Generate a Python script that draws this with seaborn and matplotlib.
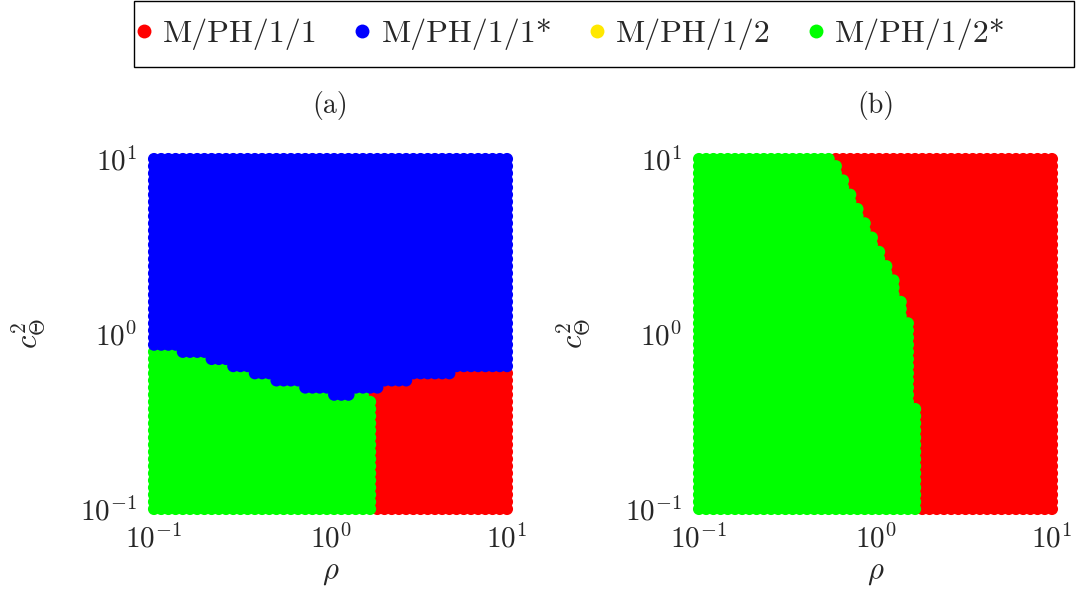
import numpy as np
import pandas as pd
import matplotlib
matplotlib.use("Agg")
import matplotlib.pyplot as plt
from matplotlib.lines import Line2D
from matplotlib.patches import Rectangle
from matplotlib.ticker import NullLocator
import seaborn as sns

# Policies and their colours (legend order)
POLICIES = ["M/PH/1/1", "M/PH/1/1*", "M/PH/1/2", "M/PH/1/2*"]
COLORS = ["#ff0000", "#0000ff", "#ffe800", "#00ff00"]

# Evaluation grid (50 x 50, log-spaced over two decades)
RHO_GRID = np.logspace(-1, 1, 50)
C2_GRID = np.logspace(-1, 1, 50)

# Panel (a): M/PH/1/1* wins above a rho-dependent c2 threshold
A_RHO_BREAKS = [0.139, 0.202, 0.268, 0.356, 0.471, 0.687, 1.0, 1.33, 1.93, 2.81, 4.94]
A_BLUE_MIN_C2 = [0.829, 0.754, 0.687, 0.625, 0.569, 0.518, 0.471, 0.429,
                 0.471, 0.518, 0.569, 0.625]
# below it, M/PH/1/1 wins for large rho, M/PH/1/2* otherwise
A_RED_MIN_RHO = 1.76
A_NOTCH_C2 = (0.43, 0.47)
A_NOTCH_RED_MIN_RHO = 1.60

# Panel (b): M/PH/1/2* wins for rho below a c2-dependent limit
B_C2_BOUNDS = [9.5, 7.9, 6.5, 5.4, 4.5, 3.7, 3.1, 2.6, 2.1, 1.6, 1.2, 0.39, 0.0]
B_GREEN_MAX_RHO = [0.57, 0.63, 0.69, 0.76, 0.83, 0.91, 1.0, 1.1, 1.2, 1.33,
                   1.46, 1.6, 1.76]


def best_policy_a(rho, c2):
    seg = int(np.searchsorted(A_RHO_BREAKS, rho))
    if c2 >= A_BLUE_MIN_C2[seg]:
        return POLICIES[1]
    lim = A_NOTCH_RED_MIN_RHO if A_NOTCH_C2[0] < c2 < A_NOTCH_C2[1] else A_RED_MIN_RHO
    return POLICIES[0] if rho > lim else POLICIES[3]


def best_policy_b(rho, c2):
    band = next(i for i, b in enumerate(B_C2_BOUNDS) if c2 >= b)
    return POLICIES[3] if rho <= B_GREEN_MAX_RHO[band] else POLICIES[0]


def build_frame(rule):
    rows = [(r, c, rule(r, c)) for r in RHO_GRID for c in C2_GRID]
    df = pd.DataFrame(rows, columns=["rho", "c2", "policy"])
    # draw order: M/PH/1/1 first, then M/PH/1/2*, M/PH/1/1* on top
    prio = {POLICIES[0]: 0, POLICIES[2]: 1, POLICIES[3]: 2, POLICIES[1]: 3}
    df["order"] = df["policy"].map(prio)
    return df.sort_values("order", kind="stable")


sns.set_theme(style="white")
plt.rcParams["font.family"] = ["cmr10", "DejaVu Serif"]
plt.rcParams["mathtext.fontset"] = "cm"
plt.rcParams["axes.unicode_minus"] = False

W, H = 1078, 597
fig = plt.figure(figsize=(W / 100, H / 100), dpi=100)

panels = [("(a)", best_policy_a, 154), ("(b)", best_policy_b, 699)]
top_px, bot_px, width_px = 159, 509, 353
FS = 20

for title, rule, left_px in panels:
    ax = fig.add_axes([left_px / W, 1 - bot_px / H, width_px / W, (bot_px - top_px) / H])
    ax.set_xscale("log")
    ax.set_yscale("log")
    df = build_frame(rule)
    sns.scatterplot(data=df, x="rho", y="c2", hue="policy", hue_order=POLICIES,
                    palette=COLORS, s=76, linewidth=0, legend=False, ax=ax)
    for coll in ax.collections:
        coll.set_clip_on(False)
    ax.set_xlim(0.1, 10)
    ax.set_ylim(0.1, 10)
    ax.set_xticks([0.1, 1, 10])
    ax.set_yticks([0.1, 1, 10])
    ax.set_xticklabels([r"$10^{-1}$", r"$10^{0}$", r"$10^{1}$"])
    ax.set_yticklabels([r"$10^{-1}$", r"$10^{0}$", r"$10^{1}$"])
    ax.xaxis.set_minor_locator(NullLocator())
    ax.yaxis.set_minor_locator(NullLocator())
    ax.tick_params(axis="both", length=0, labelsize=FS + 1)
    ax.tick_params(axis="x", pad=11)
    ax.tick_params(axis="y", pad=12)
    for sp in ax.spines.values():
        sp.set_visible(False)
    ax.set_xlabel(r"$\rho$", fontsize=FS + 2)
    ax.set_ylabel(r"$c_{\Theta}^{2}$", fontsize=FS + 2)
    ax.xaxis.set_label_coords(0.5, -0.145)
    ax.yaxis.set_label_coords(-0.30, 0.5)
    ax.text(0.5, 1 + (top_px - 105) / (bot_px - top_px), title,
            transform=ax.transAxes, ha="center", va="center", fontsize=FS)

# Legend row across the top, inside a plain black box
handles = [Line2D([], [], marker="o", linestyle="", markersize=10,
                  markerfacecolor=c, markeredgewidth=0) for c in COLORS]
fig.legend(handles, POLICIES, loc="center left",
           bbox_to_anchor=(134 / W, 1 - 34 / H), ncol=4, fontsize=23,
           frameon=False, borderaxespad=0, borderpad=0, handletextpad=0.3,
           handlelength=0.6, columnspacing=1.1)
fig.add_artist(Rectangle((133.5 / W, 1 - 67 / H), 940 / W, 66 / H,
                         transform=fig.transFigure, fill=False,
                         edgecolor="black", linewidth=1.0))

fig.savefig("out.png", dpi=100)
